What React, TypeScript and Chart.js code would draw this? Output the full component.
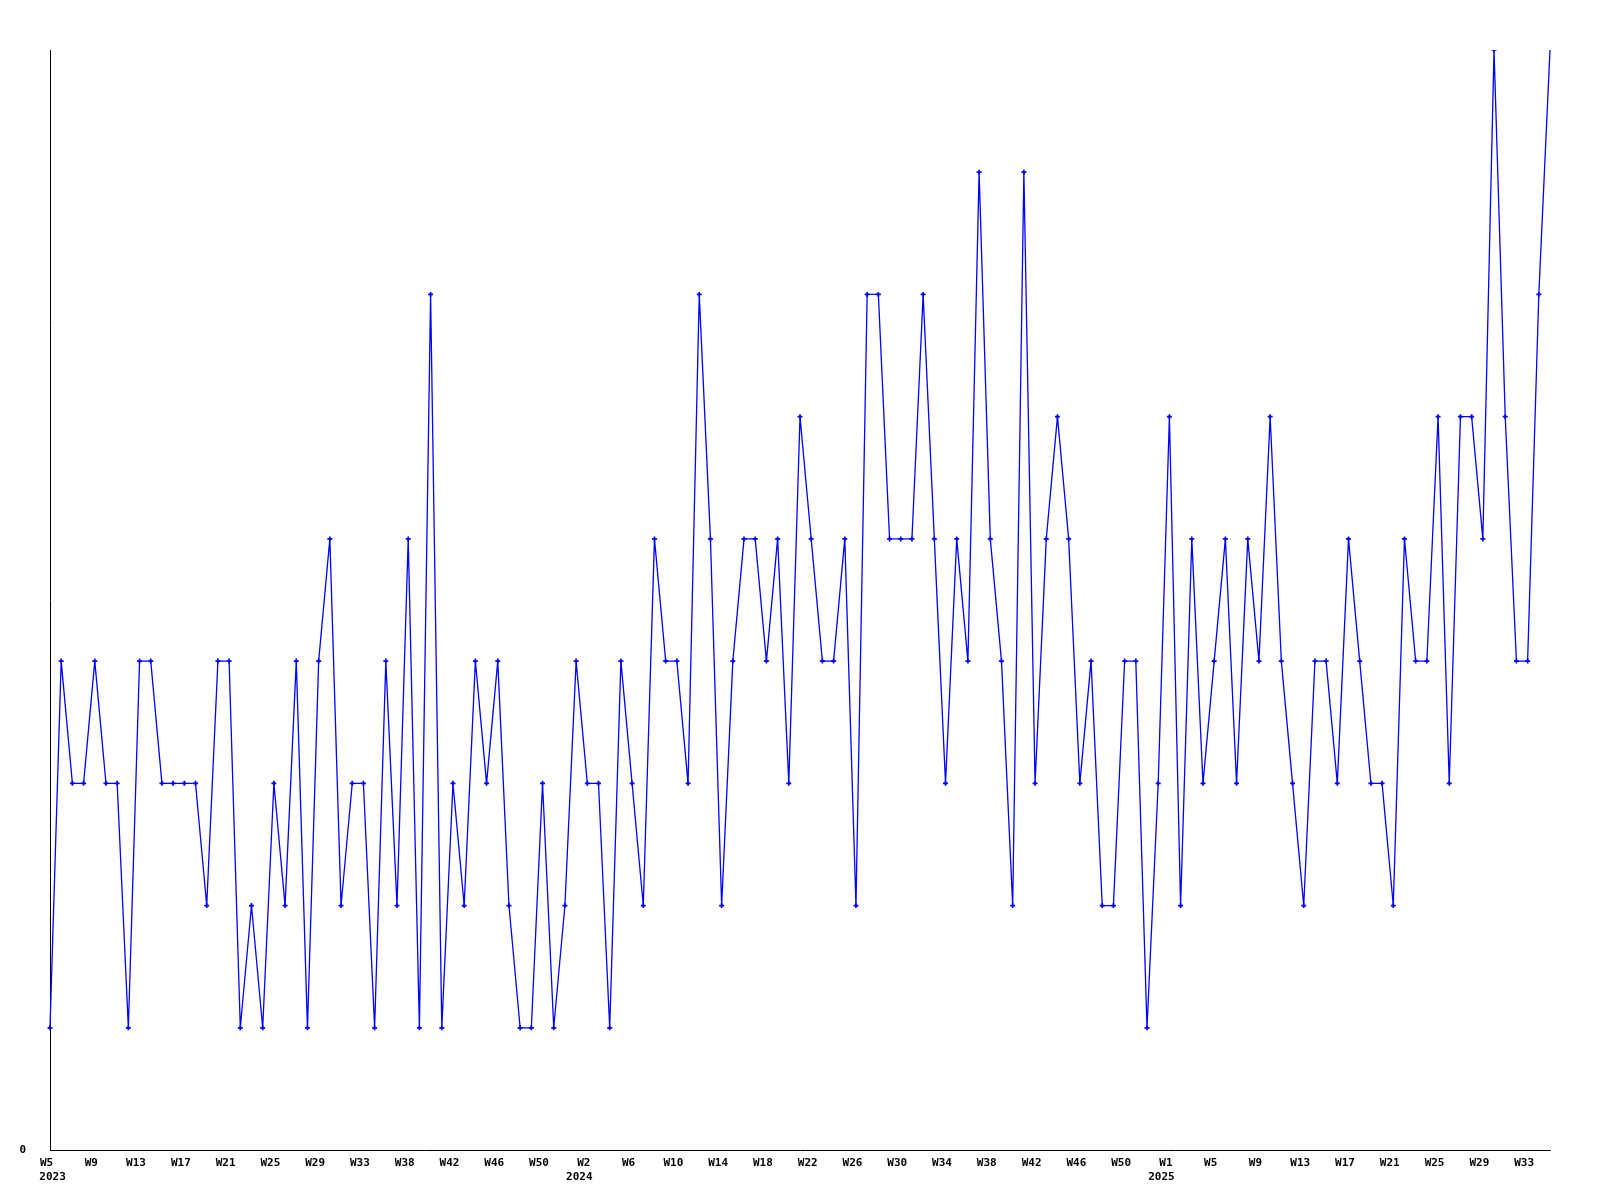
import React, { useEffect, useRef } from 'react';
import { Chart, registerables } from 'chart.js';

Chart.register(...registerables);

// Weekly counts, one per week starting at W5 2023
const VALUES: number[] = [
  1, 4, 3, 3, 4, 3, 3, 1, 4, 4, 3, 3, 3, 3, 2, 4, 4, 1, 2, 1,
  3, 2, 4, 1, 4, 5, 2, 3, 3, 1, 4, 2, 5, 1, 7, 1, 3, 2, 4, 3,
  4, 2, 1, 1, 3, 1, 2, 4, 3, 3, 1, 4, 3, 2, 5, 4, 4, 3, 7, 5,
  2, 4, 5, 5, 4, 5, 3, 6, 5, 4, 4, 5, 2, 7, 7, 5, 5, 5, 7, 5,
  3, 5, 4, 8, 5, 4, 2, 8, 3, 5, 6, 5, 3, 4, 2, 2, 4, 4, 1, 3,
  6, 2, 5, 3, 4, 5, 3, 5, 4, 6, 4, 3, 2, 4, 4, 3, 5, 4, 3, 3,
  2, 5, 4, 4, 6, 3, 6, 6, 5, 9, 6, 4, 4, 7, 9,
];

// Tick labels, shown every 4th week
const TICK_WEEKS: string[] = [
  'W5', 'W9', 'W13', 'W17', 'W21', 'W25', 'W29', 'W33', 'W38', 'W42', 'W46', 'W50',
  'W2', 'W6', 'W10', 'W14', 'W18', 'W22', 'W26', 'W30', 'W34', 'W38', 'W42', 'W46', 'W50',
  'W1', 'W5', 'W9', 'W13', 'W17', 'W21', 'W25', 'W29', 'W33',
];
const YEAR_LABELS: string[] = ['2023', '2024', '2025'];
const YEAR_TICK_INDEX: number[] = [0, 12, 25];
const TICK_EVERY = 4;

const CATEGORIES: string[] = VALUES.map((_, i) =>
  i % TICK_EVERY === 0 ? TICK_WEEKS[i / TICK_EVERY] ?? '' : ''
);

const FONT_FAMILY = '"DejaVu Sans Mono", "Liberation Mono", monospace';
const FONT = { family: FONT_FAMILY, size: 11, weight: 'bold' as const, lineHeight: 1.3 };

const yearLabelsPlugin = {
  id: 'yearLabels',
  afterDraw(chart: any) {
    const xs = chart.scales.x;
    const ctx = chart.ctx as CanvasRenderingContext2D;
    ctx.save();
    ctx.font = `bold 11px ${FONT_FAMILY}`;
    ctx.fillStyle = '#000000';
    ctx.textBaseline = 'alphabetic';
    ctx.textAlign = 'center';
    const minLeft = chart.chartArea.left - 10.7;
    YEAR_LABELS.forEach((lab, k) => {
      const px = xs.getPixelForValue(YEAR_TICK_INDEX[k] * TICK_EVERY);
      const w = ctx.measureText(lab).width;
      let cx = px - 8;
      if (cx - w / 2 < minLeft) cx = minLeft + w / 2;
      ctx.fillText(lab, cx, xs.top + 30);
    });
    ctx.restore();
  },
};

export default function App() {
  const ref = useRef<HTMLCanvasElement | null>(null);

  useEffect(() => {
    if (!ref.current) return;
    const chart = new Chart(ref.current, {
      type: 'line',
      data: {
        labels: CATEGORIES,
        datasets: [
          {
            data: VALUES,
            borderColor: '#0000ff',
            backgroundColor: '#0000ff',
            borderWidth: 1.3,
            pointStyle: 'cross',
            pointRadius: (c: any) => (c.dataIndex === VALUES.length - 1 ? 0 : 2.5),
            pointBorderWidth: 1.7,
            pointBorderColor: '#0000ff',
            pointBackgroundColor: '#0000ff',
            tension: 0,
            fill: false,
          },
        ],
      },
      options: {
        animation: false,
        responsive: false,
        devicePixelRatio: 1,
        layout: { padding: { top: 50, right: 50, left: 0, bottom: 0 } },
        plugins: { legend: { display: false }, tooltip: { enabled: false }, title: { display: false } },
        scales: {
          x: {
            type: 'category',
            offset: false,
            grid: { display: false, drawTicks: false },
            border: { display: true, color: '#000000', width: 1 },
            ticks: {
              autoSkip: false,
              maxRotation: 0,
              minRotation: 0,
              align: 'center',
              labelOffset: -3.5,
              padding: 6,
              color: '#000000',
              font: FONT,
              callback: (_v: any, index: number) => {
                if (index % TICK_EVERY !== 0) return '';
                return TICK_WEEKS[index / TICK_EVERY] ?? '';
              },
            },
            afterFit: (scale: any) => {
              scale.height = 50;
            },
          },
          y: {
            min: 0,
            max: 9,
            grid: { display: false, drawTicks: false },
            border: { display: true, color: '#000000', width: 1 },
            ticks: {
              padding: 24,
              color: '#000000',
              font: FONT,
              callback: (v: any) => (v === 0 ? '0' : ''),
            },
            afterBuildTicks: (scale: any) => {
              scale.ticks = [{ value: 0 }];
            },
            afterFit: (scale: any) => {
              scale.width = 50;
            },
          },
        },
      },
      plugins: [yearLabelsPlugin],
    });
    return () => chart.destroy();
  }, []);

  return (
    <div style={{ position: 'absolute', left: 0, top: 0, width: 1600, height: 1200, background: '#ffffff' }}>
      <canvas ref={ref} width={1600} height={1200} style={{ display: 'block', width: 1600, height: 1200 }} />
    </div>
  );
}
